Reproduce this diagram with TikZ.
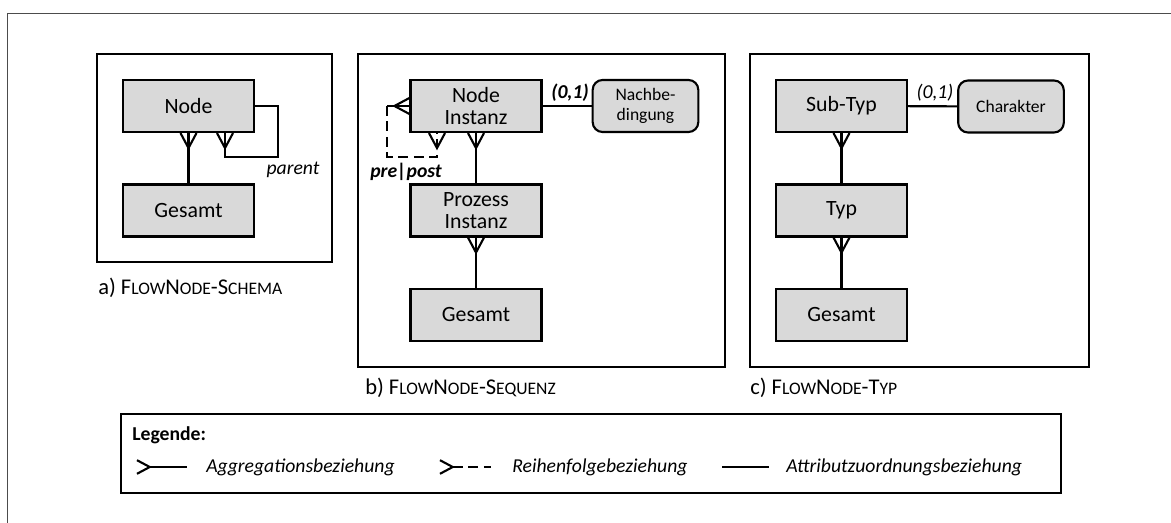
\documentclass[tikz,border=0pt]{standalone}
\usepackage{fontspec}
\setmainfont{Carlito}
\usetikzlibrary{positioning,calc}
\tikzset{
  ent/.style      = {draw=black, fill=black!15, line width=1.5pt, minimum width=3.275cm, minimum height=1.3cm, align=center, inner sep=1pt, font=\fontsize{15.5}{16}\selectfont},
  attr/.style     = {draw=black, fill=black!15, line width=1.5pt, rounded corners=7pt, minimum width=2.64cm, minimum height=1.3cm, align=center, inner sep=1pt, font=\fontsize{12.5}{14}\selectfont},
  panel/.style    = {draw=black, line width=1.5pt},
  rel/.style      = {draw=black, line width=1.5pt},
  seq/.style      = {rel, dash pattern=on 7pt off 4pt},
  card/.style     = {font=\fontsize{14}{16}\selectfont\itshape, inner sep=0pt},
  cardb/.style    = {font=\fontsize{14}{16}\selectfont\bfseries\itshape, inner sep=0pt},
  sublbl/.style   = {font=\fontsize{16}{18}\selectfont, anchor=west, inner sep=0pt},
  legtxt/.style   = {font=\fontsize{14}{16}\selectfont\itshape, anchor=west, inner sep=0pt},
  leghdr/.style   = {font=\fontsize{14}{16}\selectfont\bfseries, anchor=west, inner sep=0pt},
}
% small caps by hand
\newcommand{\kap}[1]{{\fontsize{12.5}{14}\selectfont #1}}
% crow's foot: #2 = point on the box edge, #3 = direction (0 = down)
\newcommand{\crowfoot}[3][1]{%
  \draw[rel, shift={#2}, rotate=#3, scale=#1] (-8,0) -- (0,15) -- (8,0);%
}

\begin{document}
\begin{tikzpicture}[x=0.025cm,y=-0.025cm]
  \useasboundingbox (0,0) rectangle (1171,523);
  \draw[black!70, line width=0.6pt] (7,523) -- (7,13) -- (1171,13);

  % a) schema
  \draw[panel] (97,54) rectangle (332,262);
  \node[ent] (nodeA) at (188.5,106) {Node};
  \node[ent] (gesA) at (188.5,210.5) {Gesamt};
  \draw[rel] (gesA.north) -- (nodeA.south);
  \crowfoot{(nodeA.south)}{0}
  \coordinate (parA) at ($(nodeA.south)+(36.5,0)$);
  \draw[rel] (nodeA.east) -| (278,157) -| (parA);
  \crowfoot{(parA)}{0}
  \node[card] (parent) at (293,170) {parent};
  \node[sublbl] (capA) at (98,288) {a) F\kap{LOW}N\kap{ODE}-S\kap{CHEMA}};

  % b) sequence
  \draw[panel] (358,54) rectangle (725,367);
  \node[ent] (inst) at (476,106) {Node\\Instanz};
  \node[attr] (nachb) at (645.5,106) {Nachbe-\\dingung};
  \node[ent] (proz) at (476,210.5) {Prozess\\Instanz};
  \node[ent] (gesB) at (476,315) {Gesamt};
  \draw[rel] (inst) -- (nachb);
  \node[cardb] (cardB) at (570,93) {(0,1)};
  \draw[rel] (proz.north) -- (inst.south);
  \crowfoot{(inst.south)}{0}
  \draw[rel] (gesB.north) -- (proz.south);
  \crowfoot{(proz.south)}{0}
  \coordinate (preB) at ($(inst.south)+(-39,0)$);
  \coordinate (postB) at ($(inst.west)+(-22,0)$);
  \draw[rel] (postB) -- (inst.west);
  \crowfoot{(inst.west)}{-90}
  \draw[seq] (postB) |- (437,157) -- (preB);
  \crowfoot{(preB)}{0}
  \node[cardb] (prepost) at (406,172) {pre|post};
  \node[sublbl] (capB) at (365,388) {b) F\kap{LOW}N\kap{ODE}-S\kap{EQUENZ}};

  % c) type
  \draw[panel] (750,54) rectangle (1089,367);
  \node[ent] (sub) at (841.5,106) {Sub-Typ};
  \node[attr] (chara) at (1011,106.5) {Charakter};
  \node[ent] (typ) at (841.5,210.5) {Typ};
  \node[ent] (gesC) at (841.5,315) {Gesamt};
  \draw[rel] (sub) -- (chara);
  \node[card] (cardC) at (935,93) {(0,1)};
  \draw[rel] (typ.north) -- (sub.south);
  \crowfoot{(sub.south)}{0}
  \draw[rel] (gesC.north) -- (typ.south);
  \crowfoot{(typ.south)}{0}
  \node[sublbl] (capC) at (750,388) {c) F\kap{LOW}N\kap{ODE}-T\kap{YP}};

  % legend
  \draw[panel] (121,414) rectangle (1061,493);
  \node[leghdr] (leg) at (132,435) {Legende:};
  \coordinate (aggL) at (150,467);  \coordinate (aggR) at (187,467);
  \coordinate (seqL) at (453,467);  \coordinate (seqR) at (491,467);
  \coordinate (attL) at (722,467);  \coordinate (attR) at (769,467);
  \draw[rel] (aggL) -- (aggR);
  \crowfoot[0.85]{(137,467)}{90}
  \draw[seq] (seqL) -- (seqR);
  \crowfoot[0.85]{(440,467)}{90}
  \draw[rel] (attL) -- (attR);
  \node[legtxt] (aggT) at (206,467) {Aggregationsbeziehung};
  \node[legtxt] (seqT) at (512,467) {Reihenfolgebeziehung};
  \node[legtxt] (attT) at (786,467) {Attributzuordnungsbeziehung};
\end{tikzpicture}
\end{document}
